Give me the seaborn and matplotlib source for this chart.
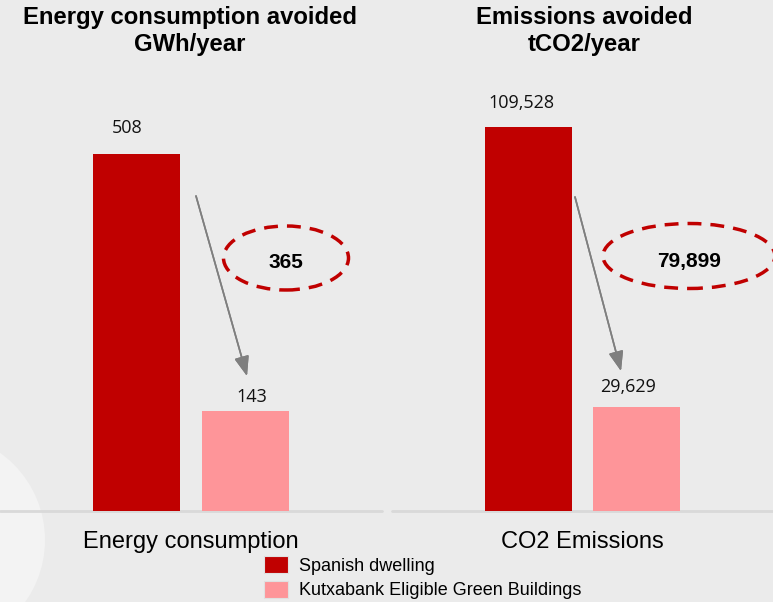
import numpy as np
import pandas as pd
import matplotlib.pyplot as plt
from matplotlib.patches import Ellipse, Circle, Patch
import seaborn as sns

# Data
panels = ["Energy consumption", "CO2 Emissions"]
titles = ["Energy consumption avoided\nGWh/year", "Emissions avoided\ntCO2/year"]
series = ["Spanish dwelling", "Kutxabank Eligible Green Buildings"]
spanish_values = [508, 109528]
kutxa_values = [143, 29629]
avoided = [365, 79899]

colors = {"Spanish dwelling": "#C00000",
          "Kutxabank Eligible Green Buildings": "#FE9599"}
bg = "#EBEBEB"

sns.set_style("white")
plt.rcParams["font.family"] = ["Liberation Sans", "DejaVu Sans"]
plt.rcParams["text.color"] = "black"
plt.rcParams["xtick.color"] = "black"

fig = plt.figure(figsize=(7.73, 6.02), dpi=100, facecolor=bg)
W, H = 773, 602

# faint decorative circle in the lower-left corner
fig.add_artist(Circle((-0.62, 0.62), 1.07, transform=fig.dpi_scale_trans,
                      facecolor="#F3F3F3", edgecolor="none", zorder=-1))

ax_px = [(0, 382), (392, 773)]      # horizontal extent of each panel in px
base_y, top_y = 511, 60
ymax = [641.8, 128640]
label_off = [[(-10, 26), (7, 14)], [(-7, 24), (-8, 20)]]
ellipses = [((286, 258), 125, 64), ((689, 256), 172, 65)]
arrows = [((196, 196), (247, 376)), ((575, 197), (621, 371))]
title_x = [190, 584]

for i, name in enumerate(panels):
    x0, x1 = ax_px[i]
    ax = fig.add_axes([x0 / W, (H - base_y) / H, (x1 - x0) / W, (base_y - top_y) / H])
    ax.set_facecolor("none")
    df = pd.DataFrame({"panel": [name, name], "series": series,
                       "value": [spanish_values[i], kutxa_values[i]]})
    sns.barplot(data=df, x="panel", y="value", hue="series", palette=colors,
                gap=0.2, width=0.8, saturation=1, linewidth=0, edgecolor="none",
                legend=False, ax=ax)
    ax.set_xlim(-0.705, 0.705)
    ax.set_ylim(0, ymax[i])
    sns.despine(ax=ax, left=True, bottom=True)
    ax.axhline(0, color="#D9D9D9", lw=2, zorder=0, clip_on=False)
    ax.set_yticks([])
    ax.set_xlabel("")
    ax.set_ylabel("")
    ax.tick_params(axis="x", length=0, pad=14.5, labelsize=17)

    for p, (dx, dy) in zip(ax.patches, label_off[i]):
        h = p.get_height()
        ax.annotate(f"{h:,.0f}", (p.get_x() + p.get_width() / 2, h),
                    xytext=(dx, dy), textcoords="offset pixels",
                    ha="center", va="center", fontsize=13,
                    family=["Open Sans", "DejaVu Sans"], color="#111111")

    (cx, cy), ew, eh = ellipses[i]
    fig.add_artist(Ellipse((cx / W, 1 - cy / H), ew / W, eh / H,
                           transform=fig.transFigure, fill=False,
                           edgecolor="#C00000", lw=2.5, linestyle=(0, (4, 2.6))))
    fig.text(cx / W, 1 - (cy + 5) / H, f"{avoided[i]:,}", ha="center", va="center",
             fontsize=15, fontweight="bold")

    (ax0, ay0), (ax1, ay1) = arrows[i]
    fig.add_artist(plt.annotate("", xy=(ax1 / W, 1 - ay1 / H), xytext=(ax0 / W, 1 - ay0 / H),
                                xycoords=fig.transFigure, textcoords=fig.transFigure,
                                arrowprops=dict(arrowstyle="-|>,head_length=1.2,head_width=0.45",
                                                color="#7F7F7F", lw=1.2, shrinkA=0, shrinkB=0)))

    fig.text(title_x[i] / W, 1 - 31 / H, titles[i], ha="center", va="center",
             fontsize=17.2, fontweight="bold", linespacing=1.2)

handles = [Patch(facecolor=colors[s], edgecolor="#E0E0E0", lw=0.8) for s in series]
fig.legend(handles, series, loc="upper left", bbox_to_anchor=(264 / W, 1 - 556 / H),
           frameon=False, fontsize=13, handlelength=1.35, handleheight=1.1,
           handletextpad=0.6, labelspacing=0.32, borderpad=0, borderaxespad=0)

fig.savefig("out.png", dpi=100, facecolor=bg)
